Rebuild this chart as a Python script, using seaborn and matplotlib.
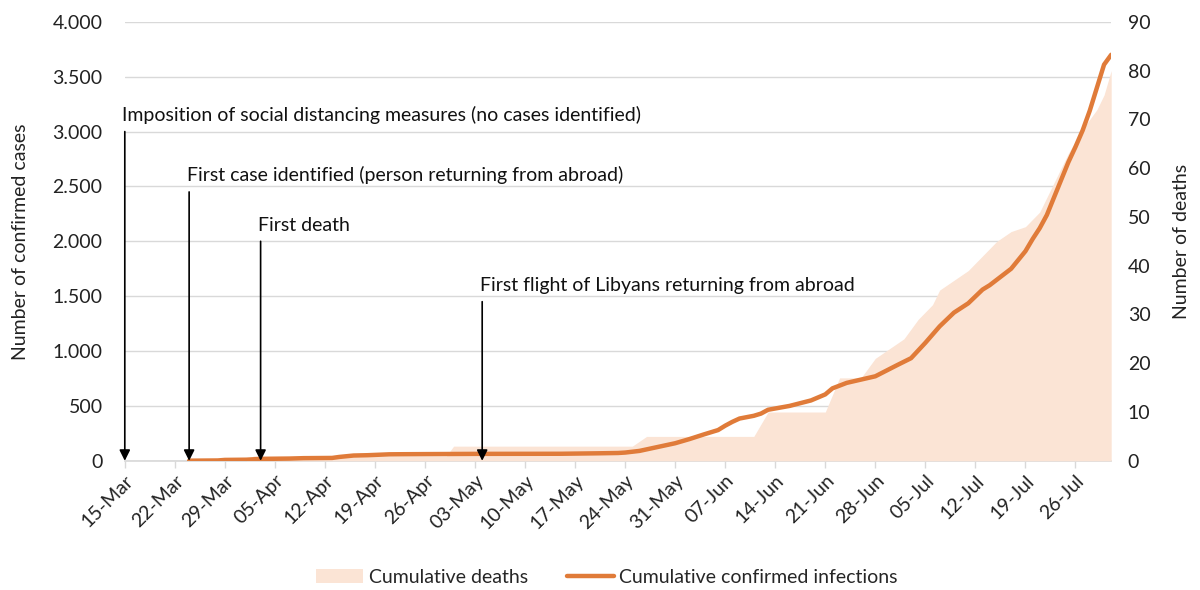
import pandas as pd
import numpy as np
import matplotlib
matplotlib.use('Agg')
import matplotlib.pyplot as plt
import matplotlib.dates as mdates
from matplotlib.ticker import FuncFormatter
from matplotlib.patches import Patch
from matplotlib.lines import Line2D
import seaborn as sns

# cumulative confirmed infections
case_dates = ['2020-03-24', '2020-03-28', '2020-03-29', '2020-04-01', '2020-04-03', '2020-04-07',
              '2020-04-09', '2020-04-13', '2020-04-14', '2020-04-16', '2020-04-18', '2020-04-21',
              '2020-04-23', '2020-04-26', '2020-05-03', '2020-05-15', '2020-05-20', '2020-05-23',
              '2020-05-24', '2020-05-26', '2020-05-28', '2020-05-31', '2020-06-02', '2020-06-04',
              '2020-06-06', '2020-06-07', '2020-06-08', '2020-06-09', '2020-06-11', '2020-06-12',
              '2020-06-13', '2020-06-16', '2020-06-19', '2020-06-21', '2020-06-22', '2020-06-24',
              '2020-06-26', '2020-06-28', '2020-07-01', '2020-07-03', '2020-07-05', '2020-07-07',
              '2020-07-09', '2020-07-11', '2020-07-13', '2020-07-14', '2020-07-17', '2020-07-18',
              '2020-07-19', '2020-07-20', '2020-07-21', '2020-07-22', '2020-07-23', '2020-07-24',
              '2020-07-25', '2020-07-26', '2020-07-27', '2020-07-28', '2020-07-29', '2020-07-30',
              '2020-07-31']
cases = [1, 3, 8, 10, 17, 20,
         24, 26, 35, 48, 51, 59,
         60, 61, 63, 64, 68, 71,
         75, 90, 118, 160, 198, 240,
         280, 320, 355, 385, 410, 430,
         465, 500, 550, 605, 660, 710,
         740, 770, 870, 935, 1075, 1225,
         1350, 1435, 1560, 1600, 1750, 1830,
         1910, 2020, 2120, 2240, 2400, 2560,
         2720, 2860, 3010, 3190, 3400, 3610,
         3700]

# cumulative deaths
death_dates = ['2020-03-24', '2020-04-01', '2020-04-02', '2020-04-29', '2020-04-30', '2020-05-25',
               '2020-05-27', '2020-06-11', '2020-06-13', '2020-06-21', '2020-06-23', '2020-06-26',
               '2020-06-28', '2020-07-02', '2020-07-04', '2020-07-06', '2020-07-07', '2020-07-09',
               '2020-07-11', '2020-07-13', '2020-07-15', '2020-07-17', '2020-07-19', '2020-07-21',
               '2020-07-23', '2020-07-25', '2020-07-27', '2020-07-29', '2020-07-30', '2020-07-31']
deaths = [0, 0, 1, 1, 3, 3,
          5, 5, 10, 10, 17, 17,
          21, 25, 29, 32, 35, 37,
          39, 42, 45, 47, 48, 51,
          57, 63, 68, 72, 75, 80]

event_dates = ['2020-03-15', '2020-03-24', '2020-04-03', '2020-05-04']
event_labels = ['Imposition of social distancing measures (no cases identified)',
                'First case identified (person returning from abroad)',
                'First death',
                'First flight of Libyans returning from abroad']
event_tops = [3000, 2450, 2000, 1450]

sns.set_theme(style='white')
plt.rcParams['font.family'] = ['Lato', 'DejaVu Sans']
FS = 14
TXT = '#222222'

df_cases = pd.DataFrame({'date': pd.to_datetime(case_dates), 'cases': cases})
df_deaths = pd.DataFrame({'date': pd.to_datetime(death_dates), 'deaths': deaths})

fig, ax = plt.subplots(figsize=(12, 5.9), dpi=100)
fig.subplots_adjust(left=0.104, right=0.926, top=0.963, bottom=0.219)
ax2 = ax.twinx()
ax3 = ax.twinx()

# deaths area (right axis)
ax2.fill_between(df_deaths['date'], df_deaths['deaths'], color='#fbe4d5', lw=0)
ax2.set_ylim(0, 90)
ax2.set_yticks(range(0, 91, 10))
ax2.set_ylabel('Number of deaths', fontsize=FS, color=TXT)
ax2.yaxis.set_label_coords(1.063, 0.5)
ax2.tick_params(axis='y', length=0, pad=12, labelsize=FS, labelcolor=TXT)

# cases line on its own layer above the area
sns.lineplot(data=df_cases, x='date', y='cases', ax=ax3, color='#e07b39', lw=3.2)
ax3.set_ylim(0, 4000)
ax3.axis('off')

for d, lab, top in zip(event_dates, event_labels, event_tops):
    d = pd.Timestamp(d)
    ax3.annotate('', xy=(d, 0), xytext=(d, top),
                 arrowprops=dict(arrowstyle='-|>', color='black', lw=1.2,
                                 mutation_scale=16, shrinkA=0, shrinkB=0))
    ax3.text(d - pd.Timedelta(hours=8), top + 70, lab, ha='left', va='bottom',
             fontsize=FS, color='#111111')

# left axis
ax.set_ylim(0, 4000)
ax.set_yticks(range(0, 4001, 500))
ax.yaxis.set_major_formatter(FuncFormatter(lambda v, p: f'{int(v):,}'.replace(',', '.')))
ax.grid(axis='y', color='#d9d9d9', lw=1)
ax.set_ylabel('Number of confirmed cases', fontsize=FS, color=TXT)
ax.yaxis.set_label_coords(-0.097, 0.5)
ax.tick_params(axis='y', length=0, pad=16, labelsize=FS, labelcolor=TXT)

ax.set_xlim(pd.Timestamp('2020-03-15'), pd.Timestamp('2020-07-31'))
ax.set_xticks(pd.date_range('2020-03-15', '2020-07-26', freq='7D'))
ax.xaxis.set_major_formatter(mdates.DateFormatter('%d-%b'))
ax.tick_params(axis='x', bottom=True, length=5, width=1, color='#d9d9d9', pad=3,
               labelsize=FS, labelcolor=TXT)
plt.setp(ax.get_xticklabels(), rotation=45, ha='right', rotation_mode='anchor')
ax.set_xlabel('')

for a in (ax, ax2):
    for s in ('top', 'left', 'right'):
        a.spines[s].set_visible(False)
ax.spines['bottom'].set_color('#d9d9d9')
ax2.spines['bottom'].set_visible(False)

handles = [Patch(facecolor='#fbe4d5', edgecolor='none'),
           Line2D([0], [0], color='#e07b39', lw=3.2)]
fig.legend(handles, ['Cumulative deaths', 'Cumulative confirmed infections'],
           loc='center', bbox_to_anchor=(0.506, 0.022), ncol=2, frameon=False,
           fontsize=FS, handlelength=2.4, columnspacing=2.0, handletextpad=0.3)

fig.savefig('out.png', dpi=100)
